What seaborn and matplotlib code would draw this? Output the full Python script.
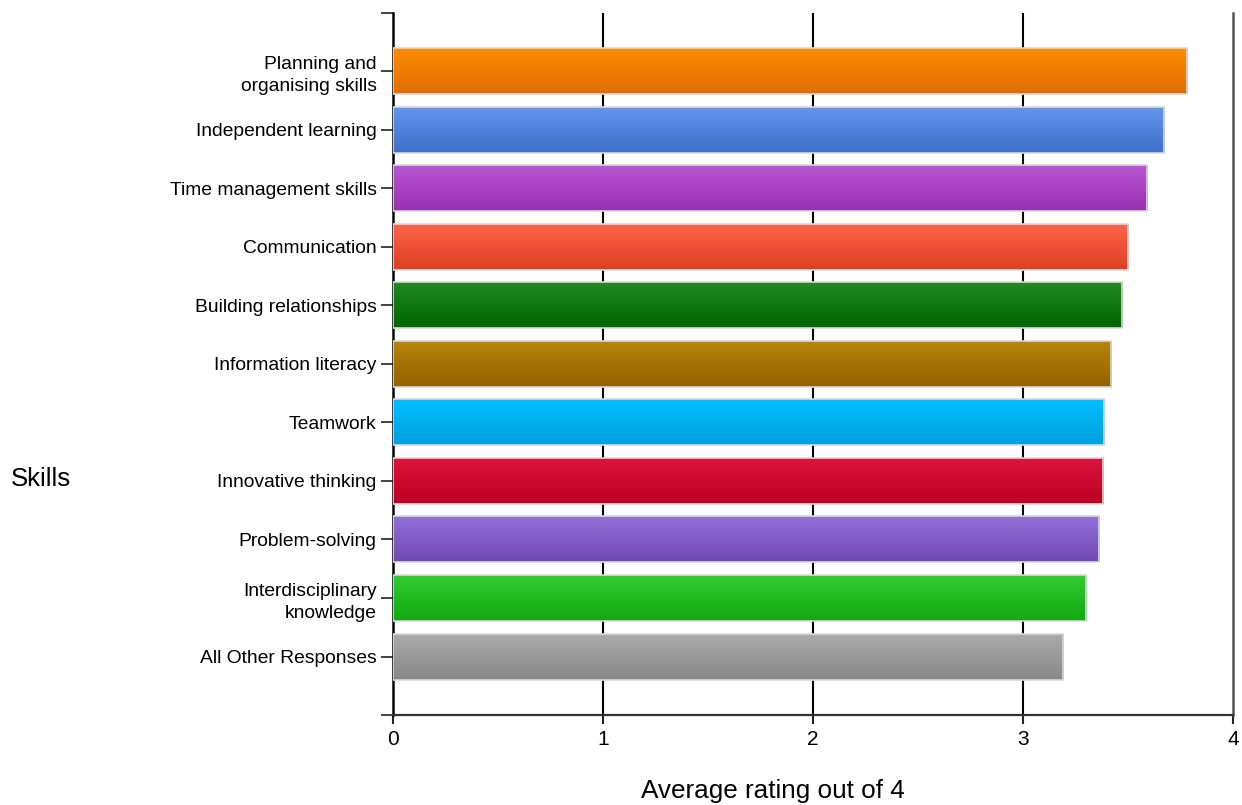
import numpy as np
import pandas as pd
import matplotlib
matplotlib.use("Agg")
import matplotlib.pyplot as plt
import seaborn as sns
from matplotlib.colors import to_rgb

# Skills and their average rating (out of 4)
skills = [
    "Planning and\norganising skills",
    "Independent learning",
    "Time management skills",
    "Communication",
    "Building relationships",
    "Information literacy",
    "Teamwork",
    "Innovative thinking",
    "Problem-solving",
    "Interdisciplinary\nknowledge",
    "All Other Responses",
]
ratings = [3.78, 3.67, 3.59, 3.50, 3.47, 3.42, 3.385, 3.38, 3.36, 3.30, 3.19]

# Gradient colours for each bar: light at the top, darker at the bottom
top_colors = ["#FF8C00", "#6495ED", "#BA55D3", "#FF6347", "#228B22", "#B8860B",
              "#00BFFF", "#DC143C", "#9370DB", "#32CD32", "#AAAAAA"]
bottom_colors = ["#DE6E00", "#3E70C8", "#9830B0", "#DA4024", "#006400", "#936000",
                 "#00A0DE", "#BC0024", "#7048B0", "#12A812", "#888888"]

x_ticks = [0, 1, 2, 3, 4]

sns.set_theme(style="white")
plt.rcParams["font.family"] = ["Liberation Sans", "DejaVu Sans"]
plt.rcParams["text.color"] = "black"
plt.rcParams["xtick.color"] = "black"
plt.rcParams["ytick.color"] = "black"

fig = plt.figure(figsize=(12.42, 8.05), dpi=100)
ax = fig.add_axes([392.5 / 1242, 1 - 714.5 / 805, (1233.3 - 392.5) / 1242, (714.5 - 13) / 805])

df = pd.DataFrame({"skill": skills, "rating": ratings})
sns.barplot(data=df, x="rating", y="skill", hue="skill", palette=top_colors,
            legend=False, width=0.785, orient="h", ax=ax, zorder=3)

# Vertical gradient fill for every bar, clipped to its rectangle
n = 64
t = np.linspace(0, 1, n)[:, None]
for patch, c0, c1 in zip(ax.patches, top_colors, bottom_colors):
    x0, y0 = patch.get_x(), patch.get_y()
    w, h = patch.get_width(), patch.get_height()
    grad = (1 - t)[:, :, None] * np.array(to_rgb(c0))[None, None, :] + \
        t[:, :, None] * np.array(to_rgb(c1))[None, None, :]
    im = ax.imshow(grad, extent=(x0, x0 + w, y0 + h, y0), origin="upper",
                   aspect="auto", zorder=3.5, interpolation="bilinear")
    im.set_clip_path(patch)
    patch.set_facecolor("none")
    patch.set_edgecolor("#d9d9d9")
    patch.set_linewidth(1.2)
    patch.set_zorder(4)

ax.set_xlim(0, 4)
ax.set_ylim(10.99, -0.99)
ax.set_xticks(x_ticks)
ax.set_xticklabels([str(v) for v in x_ticks], fontsize=15)
ax.set_yticks(range(len(skills)), minor=False)
ax.set_yticks([-0.99, 10.99], minor=True)
ax.tick_params(axis="y", which="both", labelsize=13.9, length=8.6, width=1.2,
               color="#222222", pad=2.9, left=True, labelcolor="black")
ax.tick_params(axis="x", length=6.5, width=1.5, color="#222222", pad=5,
               bottom=True, labelcolor="black")

# Vertical reference lines behind the bars
for v in x_ticks[1:-1]:
    ax.axvline(v, color="black", linewidth=1.5, zorder=1)

ax.spines["top"].set_visible(False)
ax.spines["left"].set_color("black")
ax.spines["left"].set_linewidth(1.8)
ax.spines["bottom"].set_color("#333333")
ax.spines["bottom"].set_linewidth(1.6)
ax.spines["right"].set_color("#555555")
ax.spines["right"].set_linewidth(1.8)

ax.set_xlabel("")
ax.set_ylabel("")
for lbl in ax.get_yticklabels():
    lbl.set_multialignment("right")
    lbl.set_linespacing(1.35)

fig.text(11 / 1242, 1 - 479 / 805, "Skills", ha="left", va="center",
         fontsize=18.5, color="black")
fig.text(773 / 1242, 1 - 791 / 805, "Average rating out of 4", ha="center",
         va="center", fontsize=18.8, color="black")

fig.savefig("out.png", dpi=100)
